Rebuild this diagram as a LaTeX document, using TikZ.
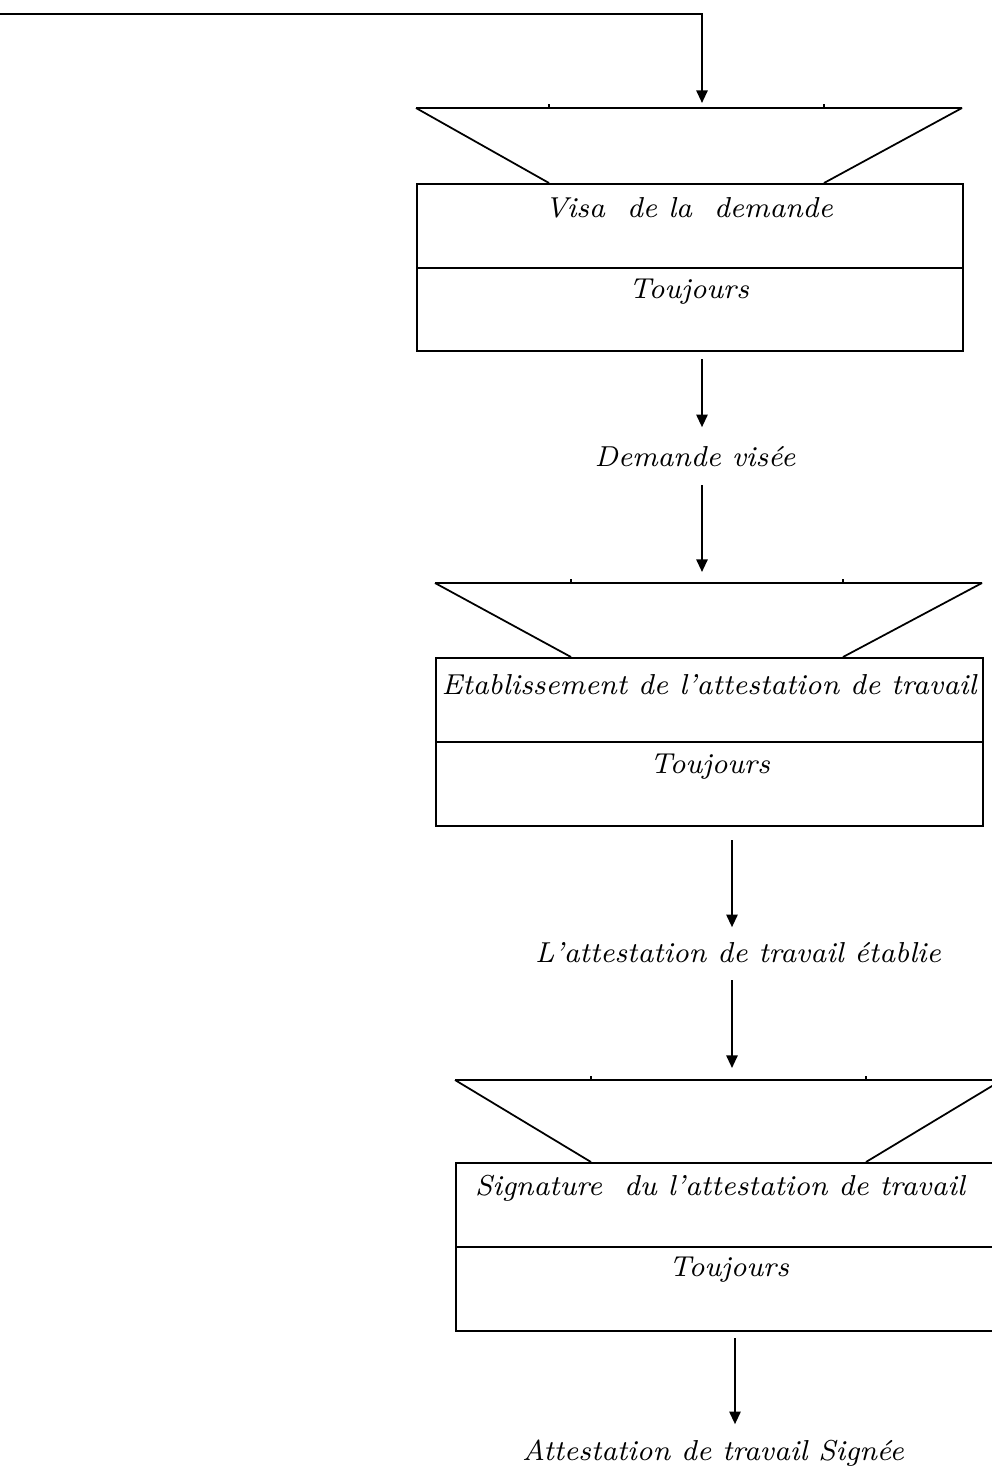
\documentclass[tikz,border=0pt]{standalone}
\usepackage{fontspec}
\usetikzlibrary{arrows.meta,positioning}

\tikzset{
  cellule/.style={draw, line width=0.6pt, minimum width=5.46cm, minimum height=1.67cm, inner sep=0pt, anchor=north west},
  texte/.style={font=\fontsize{8.2}{10}\selectfont\itshape, inner sep=1pt},
  fleche/.style={line width=0.6pt, -{Triangle[length=3.6pt,width=3.2pt]}},
}

\begin{document}
\begin{tikzpicture}[x=0.01cm, y=-0.01cm, line width=0.5pt]
  \clip (0,0) rectangle (992,1475);

  % colonnes des flèches
  \coordinate (depart) at (0,14);
  \coordinate (coude) at (702,14);
  \coordinate (col2) at (732,0);
  \coordinate (col3) at (735,0);

  % bloc 1 : visa
  \coordinate (haut1) at (689,108);
  \draw (416,108) -- (962,108) (416,108) -- (549,183) (962,108) -- (824,183);
  \draw (549,104) -- (549,108) (824,104) -- (824,108);
  \node[cellule] (visa) at (416,183) {};
  \draw[line width=0.6pt] (visa.west) -- (visa.east);
  \node[texte] (lvisa) at (689,208) {Visa\ \ de la\ \ demande};
  \node[texte] (tvisa) at (689,292) {Toujours};

  \node[texte] (lvise) at (695,457) {Demande visée};

  % bloc 2 : établissement
  \coordinate (haut2) at (709,583);
  \draw (435,583) -- (982,583) (435,583) -- (571,657) (982,583) -- (843,657);
  \draw (571,579) -- (571,583) (843,579) -- (843,583);
  \node[cellule, minimum width=5.47cm, minimum height=1.68cm] (etab) at (435,657) {};
  \draw[line width=0.6pt] (etab.west) -- (etab.east);
  \node[texte] (letab) at (709,685) {Etablissement de l'attestation de travail};
  \node[texte] (tetab) at (710,767) {Toujours};

  \node[texte] (lfaite) at (738,953) {L'attestation de travail établie};

  % bloc 3 : signature
  \coordinate (haut3) at (728,1080);
  \draw (455,1080) -- (1002,1080) (455,1080) -- (591,1162) (1002,1080) -- (866,1162);
  \draw (591,1076) -- (591,1080) (866,1076) -- (866,1080);
  \node[cellule, minimum height=1.68cm] (sign) at (455,1162) {};
  \draw[line width=0.6pt] (sign.west) -- (sign.east);
  \node[texte] (lsign) at (720,1188) {Signature\ \ du l'attestation de travail};
  \node[texte] (tsign) at (729,1270) {Toujours};

  \node[texte] (lsignee) at (713,1453) {Attestation de travail Signée};

  % flèches
  \draw[fleche, shorten >=0.05cm] (depart) -- (coude) -- (coude |- haut1);
  \draw[fleche, shorten <=0.07cm] (visa.south -| coude) -- ++(0,75);
  \draw[fleche, shorten >=0.11cm] (haut2 -| coude) ++(0,-98) -- (haut2 -| coude);
  \draw[fleche, shorten <=0.13cm] (etab.south -| col2) -- ++(0,100);
  \draw[fleche, shorten >=0.12cm] (haut3 -| col2) ++(0,-100) -- (haut3 -| col2);
  \draw[fleche, shorten <=0.06cm] (sign.south -| col3) -- ++(0,92);
\end{tikzpicture}
\end{document}
